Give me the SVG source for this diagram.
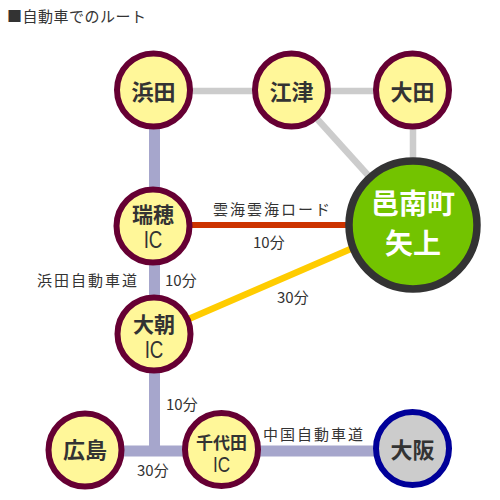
<svg xmlns="http://www.w3.org/2000/svg" width="500" height="500" viewBox="0 0 500 500">
<style>
.n circle{fill:#fff799;stroke:#660033;stroke-width:6}
.nt{font-family:"Noto Sans CJK JP","Liberation Sans",sans-serif;font-weight:bold;fill:#333;text-anchor:middle}
.ic{font-family:"Liberation Sans","Arial",sans-serif;fill:#333;text-anchor:middle}
.lb{font-family:"Noto Sans CJK JP","Liberation Sans",sans-serif;font-size:15px;fill:#333;letter-spacing:2px}
.g{stroke:#cccccc;stroke-width:6.5;fill:none}
.b{stroke:#a6a6cc;stroke-width:11;fill:none}
</style>
<rect width="500" height="500" fill="#fff"/>
<text x="7" y="22" class="lb" style="letter-spacing:0.5px">■自動車でのルート</text>
<g id="connectors">
<line class="g" x1="153" y1="91" x2="412" y2="91"/>
<line class="g" x1="291" y1="90" x2="413" y2="225"/>
<line class="g" x1="413" y1="90" x2="413" y2="225"/>
<polyline class="b" points="154.5,90 154.5,451"/>
<line class="b" x1="85" y1="451" x2="413" y2="451"/>
<line stroke="#cc3300" stroke-width="6" x1="153" y1="225" x2="413" y2="225"/>
<line stroke="#ffcc00" stroke-width="6.5" x1="154" y1="334" x2="413" y2="222"/>
</g>
<g id="labels">
<text class="lb" x="213" y="215">雲海雲海ロード</text>
<text class="lb" x="253" y="248" style="letter-spacing:0">10分</text>
<text class="lb" x="37" y="286">浜田自動車道</text>
<text class="lb" x="165" y="286" style="letter-spacing:0">10分</text>
<text class="lb" x="277" y="303" style="letter-spacing:0">30分</text>
<text class="lb" x="166" y="410" style="letter-spacing:0">10分</text>
<text class="lb" x="137" y="476" style="letter-spacing:0">30分</text>
<text class="lb" x="263" y="440">中国自動車道</text>
</g>
<g id="hamada" class="n"><circle cx="153.5" cy="90" r="36.5"/><text class="nt" x="153.5" y="100" font-size="22">浜田</text></g>
<g id="gotsu" class="n"><circle cx="291.5" cy="90" r="36.5"/><text class="nt" x="291.5" y="100" font-size="22">江津</text></g>
<g id="ohda" class="n"><circle cx="412.5" cy="90" r="36.5"/><text class="nt" x="412.5" y="100" font-size="22">大田</text></g>
<g id="mizuho" class="n"><circle cx="153" cy="226" r="36.5"/><text class="nt" x="153" y="222" font-size="21">瑞穂</text><text class="ic" transform="translate(153,248) scale(0.78,1)" font-size="24">IC</text></g>
<g id="asahi" class="n"><circle cx="154" cy="334" r="36.5"/><text class="nt" x="154" y="332" font-size="21">大朝</text><text class="ic" transform="translate(154,358) scale(0.78,1)" font-size="24">IC</text></g>
<g id="hiroshima" class="n"><circle cx="85" cy="450" r="36.5"/><text class="nt" x="85" y="458" font-size="22">広島</text></g>
<g id="chiyoda" class="n"><circle cx="221.5" cy="449.5" r="36.5"/><text class="nt" x="221.5" y="449" font-size="17">千代田</text><text class="ic" transform="translate(221.5,472) scale(0.78,1)" font-size="22">IC</text></g>
<g id="osaka"><circle cx="412.5" cy="448.5" r="36.5" fill="#cccccc" stroke="#000099" stroke-width="6"/><text class="nt" x="412.5" y="458" font-size="22">大阪</text></g>
<g id="yakami"><circle cx="413" cy="225" r="64" fill="#73c300" stroke="#333333" stroke-width="7.5"/><text class="nt" x="413" y="214" font-size="28" style="fill:#fff">邑南町</text><text class="nt" x="413" y="254" font-size="28" style="fill:#fff">矢上</text></g>
</svg>
